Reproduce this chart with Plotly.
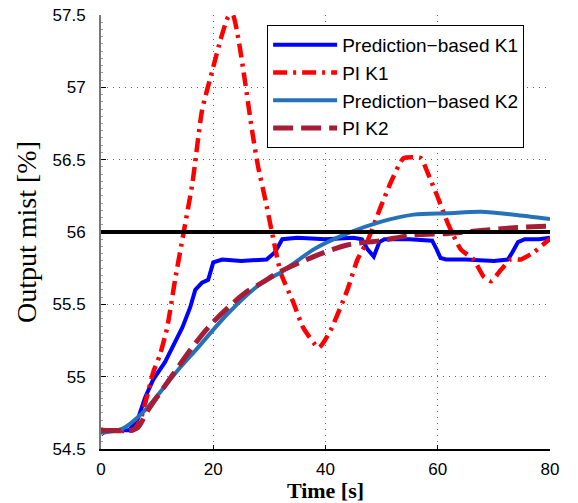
import plotly.graph_objects as go

# ---- data ----
t_pb1 = [0, 1, 5, 6.5, 7.9, 9.3, 11.4, 12.9, 14.5, 15.9, 16.8, 18, 19.1, 20, 21.6, 25, 29.5, 31, 32.3,
         35, 40, 45, 46.5, 47.5, 48.6, 49.6, 50.5, 55, 59, 59.8, 60.5, 61.5, 65, 70, 72.5, 73.3, 74.3,
         75.5, 78, 80]
y_pb1 = [54.6, 54.63, 54.63, 54.7, 54.86, 54.98, 55.1, 55.21, 55.34, 55.48, 55.6, 55.65, 55.67, 55.79,
         55.81, 55.8, 55.81, 55.86, 55.95, 55.96, 55.95, 55.96, 55.95, 55.88, 55.83, 55.93, 55.95, 55.95,
         55.94, 55.88, 55.82, 55.81, 55.81, 55.8, 55.81, 55.86, 55.93, 55.95, 55.95, 55.96]

t_pi1 = [0, 5.7, 7, 7.9, 9.3, 10.5, 11.8, 13.2, 14.6, 16.3, 18, 20, 21.3, 22.7, 23.5, 24.5, 25.7, 27,
         28, 29.3, 30.5, 32, 34.3, 36, 38.8, 40.9, 43.9, 45.7, 47.5, 49.8, 51.6, 53.9, 57, 58.2, 60,
         61.8, 64.1, 66.4, 68.2, 69.5, 71.3, 73, 74.8, 77.1, 79.6, 80]
y_pi1 = [54.63, 54.63, 54.7, 54.82, 55.03, 55.15, 55.34, 55.67, 55.97, 56.34, 56.84, 57.14, 57.33,
         57.49, 57.5, 57.33, 57.03, 56.68, 56.45, 56.22, 55.99, 55.72, 55.51, 55.34, 55.2, 55.32, 55.6,
         55.81, 55.94, 56.17, 56.34, 56.51, 56.51, 56.41, 56.24, 56.06, 55.88, 55.81, 55.69, 55.66,
         55.74, 55.81, 55.81, 55.86, 55.94, 55.95]

t_pb2 = [0, 3, 4.3, 7.9, 13.8, 16.8, 22.7, 28.7, 32, 34.6, 37.9, 43.9, 49.8, 55.7, 61.8, 67.7, 73.6, 80]
y_pb2 = [54.61, 54.63, 54.65, 54.77, 55.05, 55.18, 55.44, 55.65, 55.72, 55.79, 55.88, 55.99, 56.07,
         56.12, 56.13, 56.14, 56.12, 56.09]

t_pi2 = [0, 5.5, 6.6, 8.4, 10.9, 13.8, 16.8, 19.8, 22.7, 25.7, 28.7, 31.6, 37.9, 43.9, 49.8, 55.7,
         61.8, 67.7, 73.6, 80]
y_pi2 = [54.63, 54.63, 54.65, 54.77, 54.91, 55.07, 55.23, 55.37, 55.48, 55.58, 55.65, 55.72, 55.83,
         55.91, 55.94, 55.98, 55.99, 56.01, 56.03, 56.04]

t_ref = [0, 80]
y_ref = [56, 56]

x_ticks = [0, 20, 40, 60, 80]
y_ticks = [54.5, 55, 55.5, 56, 56.5, 57, 57.5]
y_tick_text = ["54.5", "55", "55.5", "56", "56.5", "57", "57.5"]

fig = go.Figure()
fig.add_trace(go.Scatter(x=t_pb1, y=y_pb1, mode="lines", name="Prediction\u2212based K1",
                         line=dict(color="#0000ff", width=4)))
fig.add_trace(go.Scatter(x=t_pi1, y=y_pi1, mode="lines", name="PI K1",
                         line=dict(color="#ff0000", width=4.5, dash="14px,6px,3px,6px",
                                   shape="spline", smoothing=0.5)))
fig.add_trace(go.Scatter(x=t_pb2, y=y_pb2, mode="lines", name="Prediction\u2212based K2",
                         line=dict(color="#2672b8", width=4, shape="spline", smoothing=0.8)))
fig.add_trace(go.Scatter(x=t_pi2, y=y_pi2, mode="lines", name="PI K2",
                         line=dict(color="#a51d36", width=5, dash="20px,8px", shape="spline", smoothing=0.8)))
fig.add_trace(go.Scatter(x=t_ref, y=y_ref, mode="lines", showlegend=False,
                         line=dict(color="black", width=4)))

fig.update_layout(
    width=578, height=503,
    margin=dict(l=101, r=28, t=15, b=54),
    paper_bgcolor="white", plot_bgcolor="white",
    font=dict(family="Liberation Sans, Arial", size=17, color="black"),
    legend=dict(x=0.37, y=0.977, xanchor="left", yanchor="top",
                bgcolor="white", bordercolor="black", borderwidth=1,
                font=dict(size=19), itemwidth=64, tracegroupgap=0),
    xaxis=dict(range=[0, 80], tickvals=x_ticks, ticks="inside", ticklen=4, tickcolor="black",
               ticklabelstandoff=4,
               showline=True, linecolor="black", linewidth=1.5, mirror=False, automargin=False,
               showgrid=True, gridcolor="#666", gridwidth=1, griddash="1px,5px", zeroline=False,
               title=dict(text="<b>Time [s]</b>", font=dict(family="Liberation Serif", size=22), standoff=2)),
    yaxis=dict(range=[54.5, 57.5], tickvals=y_ticks, ticktext=y_tick_text, ticks="inside", ticklen=5,
               tickcolor="black", automargin=False, ticklabelstandoff=10,
               showline=True, linecolor="#777", linewidth=2, mirror=False,
               showgrid=True, gridcolor="#666", gridwidth=1, griddash="1px,5px", zeroline=False,
               minor=dict(dtick=0.05, ticks="inside", ticklen=2, tickcolor="#999", showgrid=False),
               title=dict(text="Output mist [%]", font=dict(family="Liberation Serif", size=28), standoff=8)),
)

fig.write_html("out.html", config={"displayModeBar": False},
               post_script="document.body.style.margin='0';")
